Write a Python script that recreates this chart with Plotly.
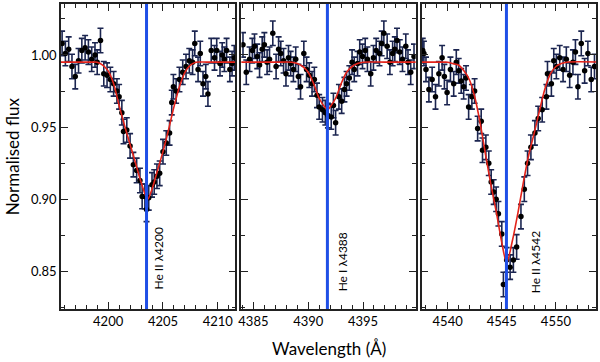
import plotly.graph_objects as go

# He II 4200 panel
wl1 = [4195.8, 4196.1, 4196.4, 4196.7, 4197.0, 4197.3, 4197.6, 4197.9, 4198.2, 4198.5,
       4198.8, 4199.0, 4199.3, 4199.6, 4199.9, 4200.2, 4200.5, 4200.8, 4201.0, 4201.25,
       4201.4, 4201.7, 4202.0, 4202.3, 4202.6, 4202.9, 4203.1, 4203.35, 4203.5, 4203.7,
       4204.0, 4204.2, 4204.45, 4204.7, 4205.0, 4205.3, 4205.6, 4205.8, 4205.95, 4206.2,
       4206.5, 4206.8, 4207.1, 4207.4, 4207.7, 4207.9, 4208.2, 4208.4, 4208.65, 4208.9,
       4209.1, 4209.4, 4209.7, 4209.9, 4210.2, 4210.4, 4210.6, 4210.8, 4211.1, 4211.3, 4211.5]
flux1 = [1.008, 1.001, 1.004, 0.992, 0.985, 0.996, 1.003, 1.005, 1.002, 0.997,
         1.000, 0.995, 1.010, 0.987, 0.986, 0.983, 0.980, 0.975, 0.971, 0.960,
         0.947, 0.948, 0.937, 0.924, 0.920, 0.913, 0.902, 0.902, 0.893, 0.901,
         0.910, 0.912, 0.916, 0.918, 0.933, 0.939, 0.946, 0.967, 0.978, 0.975,
         0.983, 0.988, 0.992, 0.996, 0.995, 1.008, 0.990, 1.001, 0.980, 0.985,
         0.973, 1.003, 0.998, 1.003, 0.994, 1.000, 0.997, 1.003, 0.990, 0.994, 0.998]
model_wl1 = [4195.5, 4196.5, 4197.5, 4198.5, 4199.0, 4199.5, 4200.0, 4200.5, 4201.0, 4201.5,
             4202.0, 4202.5, 4203.0, 4203.6, 4204.0, 4204.5, 4205.0, 4205.5, 4206.0, 4206.5,
             4207.0, 4207.5, 4208.0, 4209.0, 4210.0, 4211.0, 4212.0]
model1 = [0.995, 0.995, 0.995, 0.995, 0.995, 0.993, 0.989, 0.980, 0.965, 0.951,
          0.938, 0.925, 0.912, 0.900, 0.907, 0.920, 0.933, 0.948, 0.964, 0.978,
          0.988, 0.993, 0.995, 0.995, 0.995, 0.995, 0.995]

# He I 4388 panel
wl2 = [4384.05, 4384.35, 4384.65, 4384.9, 4385.1, 4385.35, 4385.56, 4385.8, 4386.0, 4386.25,
       4386.47, 4386.77, 4387.07, 4387.3, 4387.5, 4387.75, 4387.97, 4388.2, 4388.4, 4388.65,
       4388.86, 4389.1, 4389.3, 4389.6, 4389.85, 4390.1, 4390.35, 4390.56, 4390.8, 4391.0,
       4391.3, 4391.56, 4391.8, 4392.1, 4392.3, 4392.5, 4392.8, 4393.05, 4393.3, 4393.5,
       4393.75, 4394.0, 4394.2, 4394.5, 4394.7, 4394.95, 4395.2, 4395.4, 4395.7, 4395.95,
       4396.2, 4396.5, 4396.7, 4396.9, 4397.2, 4397.45, 4397.7, 4397.9, 4398.1, 4398.35,
       4398.6, 4398.9, 4399.1, 4399.35, 4399.65]
flux2 = [1.007, 0.988, 0.997, 1.003, 1.006, 0.999, 0.993, 1.004, 1.007, 0.995,
         0.997, 1.015, 0.992, 1.004, 1.001, 0.996, 0.987, 0.998, 0.994, 0.990,
         0.997, 0.985, 0.978, 1.001, 0.990, 0.986, 0.980, 0.983, 0.972, 0.964,
         0.962, 0.960, 0.958, 0.957, 0.965, 0.953, 0.971, 0.968, 0.976, 0.980,
         0.984, 0.995, 0.990, 0.994, 1.002, 0.999, 1.003, 0.997, 0.987, 0.998,
         1.003, 1.001, 1.008, 1.015, 1.006, 0.995, 1.001, 1.004, 1.010, 1.002,
         0.997, 1.006, 0.995, 0.988, 0.999]
model_wl2 = [4383.5, 4385.0, 4387.0, 4388.5, 4389.0, 4389.5, 4390.0, 4390.5, 4391.0, 4391.5,
             4391.77, 4392.0, 4392.5, 4393.0, 4393.5, 4394.0, 4394.5, 4395.0, 4397.0, 4400.5]
model2 = [0.995, 0.995, 0.995, 0.995, 0.994, 0.992, 0.988, 0.980, 0.970, 0.964,
          0.962, 0.964, 0.970, 0.980, 0.988, 0.992, 0.994, 0.995, 0.995, 0.995]

# He II 4542 panel
wl3 = [4537.7, 4537.81, 4538.0, 4538.27, 4538.57, 4538.88, 4539.19, 4539.49, 4539.7, 4539.95,
       4540.26, 4540.56, 4540.8, 4541.02, 4541.25, 4541.48, 4541.7, 4541.94, 4542.24, 4542.49,
       4542.77, 4543.1, 4543.22, 4543.53, 4543.8, 4544.02, 4544.25, 4544.48, 4544.69, 4545.0,
       4545.15, 4545.45, 4545.77, 4546.07, 4546.37, 4546.77, 4547.08, 4547.38, 4547.69, 4548.06,
       4548.36, 4548.73, 4549.12, 4549.22, 4549.58, 4549.8, 4550.04, 4550.35, 4550.66, 4550.96,
       4551.27, 4551.57, 4551.8, 4552.03, 4552.34, 4552.65, 4552.95, 4553.26, 4553.56]
flux3 = [1.003, 1.001, 0.990, 0.976, 0.983, 0.971, 0.987, 0.998, 0.985, 0.974,
         0.990, 0.980, 0.995, 0.989, 0.982, 0.978, 0.984, 0.964, 0.971, 0.975,
         0.949, 0.954, 0.934, 0.936, 0.925, 0.912, 0.905, 0.900, 0.890, 0.876,
         0.841, 0.858, 0.853, 0.858, 0.867, 0.888, 0.907, 0.925, 0.936, 0.946,
         0.956, 0.962, 0.971, 0.987, 0.980, 0.996, 0.992, 0.998, 0.990, 0.997,
         0.986, 0.995, 1.002, 0.978, 1.008, 0.989, 1.001, 0.983, 0.992]
model_wl3 = [4537.0, 4539.0, 4539.5, 4540.0, 4540.5, 4541.0, 4541.5, 4542.0, 4542.5, 4543.0,
             4543.5, 4544.0, 4544.5, 4545.0, 4545.45, 4546.0, 4546.5, 4547.0, 4547.5, 4548.0,
             4548.5, 4549.0, 4549.5, 4550.0, 4550.5, 4551.0, 4554.5]
model3 = [0.995, 0.995, 0.995, 0.995, 0.994, 0.993, 0.989, 0.983, 0.971, 0.953,
          0.931, 0.910, 0.891, 0.870, 0.856, 0.872, 0.891, 0.912, 0.931, 0.946,
          0.962, 0.977, 0.987, 0.992, 0.994, 0.995, 0.995]

flux_err = [0.0085, 0.0085, 0.0085]
line_centres = [4203.5, 4391.75, 4545.43]
line_labels = ['He II \u03bb4200', 'He I \u03bb4388', 'He II \u03bb4542']
label_pos = [(4204.55, 0.859), (4393.08, 0.857), (4548.06, 0.857)]
x_ranges = [[4195.7, 4211.6], [4383.9, 4399.8], [4537.6, 4553.7]]
x_tick0 = [4200, 4385, 4540]
y_range = [0.824, 1.0353]

panels = [(wl1, flux1, model_wl1, model1),
          (wl2, flux2, model_wl2, model2),
          (wl3, flux3, model_wl3, model3)]
domains = [[0, 0.3259], [0.3371, 0.6629], [0.6741, 1]]

FONT = 'Lato, "Open Sans", sans-serif'
fig = go.Figure()

for i, (wl, fl, mwl, mfl) in enumerate(panels):
    xa = 'x' if i == 0 else 'x%d' % (i + 1)
    ya = 'y' if i == 0 else 'y%d' % (i + 1)
    fig.add_trace(go.Scatter(x=wl, y=fl, mode='markers', xaxis=xa, yaxis=ya,
                             marker=dict(color='black', size=5.5),
                             error_y=dict(type='constant', value=flux_err[i],
                                          color='#1b2550', thickness=1.6, width=3),
                             showlegend=False))
    fig.add_trace(go.Scatter(x=mwl, y=mfl, mode='lines', xaxis=xa, yaxis=ya,
                             line=dict(color='#e3231a', width=1.6, shape='spline',
                                       smoothing=0.8),
                             showlegend=False))
    fig.add_shape(type='line', xref=xa, yref=ya + ' domain',
                  x0=line_centres[i], x1=line_centres[i], y0=0, y1=1,
                  line=dict(color='#1f4fe6', width=3))
    fig.add_annotation(x=label_pos[i][0], y=label_pos[i][1], xref=xa, yref=ya,
                       text=line_labels[i], textangle=-90, showarrow=False,
                       font=dict(family=FONT, size=12, color='black'))

    axis_common = dict(showline=True, linecolor='#222', linewidth=1.5, mirror='allticks',
                       ticks='inside', ticklen=7, tickwidth=1, tickcolor='#222',
                       showgrid=False, zeroline=False,
                       tickfont=dict(family=FONT, size=13, color='black'))
    xkey = 'xaxis' if i == 0 else 'xaxis%d' % (i + 1)
    ykey = 'yaxis' if i == 0 else 'yaxis%d' % (i + 1)
    fig.layout[xkey] = dict(axis_common, domain=domains[i], anchor=ya, range=x_ranges[i],
                            tickmode='linear', tick0=x_tick0[i], dtick=5,
                            minor=dict(dtick=1, ticklen=4, ticks='inside', tickcolor='#222'))
    fig.layout[ykey] = dict(axis_common, domain=[0, 1], anchor=xa, range=y_range,
                            tickmode='linear', tick0=0.85, dtick=0.05, tickformat='.2f',
                            showticklabels=(i == 0),
                            minor=dict(dtick=0.025, ticklen=4, ticks='inside', tickcolor='#222'))

fig.add_annotation(text='Wavelength (\u00c5)', xref='paper', yref='paper', x=0.5, y=-0.128,
                   yanchor='middle', showarrow=False,
                   font=dict(family=FONT, size=17, color='black'))
fig.add_annotation(text='Normalised flux', xref='paper', yref='paper', x=-0.09, y=0.5,
                   textangle=-90, xanchor='center', showarrow=False,
                   font=dict(family=FONT, size=17, color='black'))

fig.update_layout(width=600, height=362, plot_bgcolor='white', paper_bgcolor='white',
                  margin=dict(l=61, r=2, t=4, b=53))
fig.write_html('out.html', config={'displayModeBar': False},
               post_script="document.body.style.margin='0';")
